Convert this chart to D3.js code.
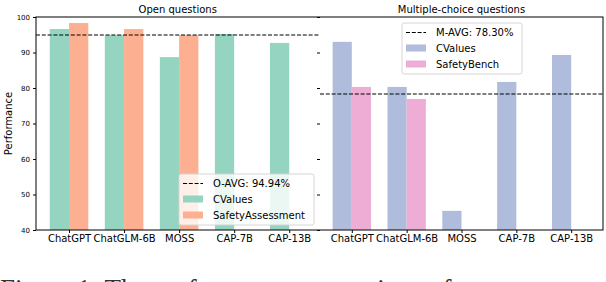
<!DOCTYPE html>
<html>
<head>
<meta charset="utf-8">
<script src="https://cdn.jsdelivr.net/npm/d3@7"></script>
<style>
  body { margin: 0; background: #fff; }
  svg { display: block; }
  text { font-family: "DejaVu Sans", sans-serif; }
</style>
</head>
<body>
<svg id="chart" width="606" height="282"></svg>
<script>
// data
const models = ['ChatGPT', 'ChatGLM-6B', 'MOSS', 'CAP-7B', 'CAP-13B']
const openCValues = [96.6, 94.9, 88.7, 95.2, 92.7]
const openSafety = [98.3, 96.6, 94.9, null, null]
const mcCValues = [93.0, 80.3, 45.4, 81.7, 89.3]
const mcSafetyBench = [80.3, 76.9, null, null, null]
const openAvg = 94.94
const mcAvg = 78.30
const yTicks = [40, 50, 60, 70, 80, 90, 100]

const svg = d3.select('#chart')
const plotTop = 17, plotBottom = 230, plotLeft = 36, plotMid = 319.5, plotRight = 603
const barW = 0.35

let y = d3.scaleLinear().domain([40, 100]).range([plotBottom, plotTop])
let xL = d3.scaleLinear().domain([-0.6, 4.55]).range([plotLeft, plotMid])
let xR = d3.scaleLinear().domain([-0.58, 4.58]).range([plotMid + 0.5, plotRight])

function drawPanel (x, seriesA, seriesB, colorA, colorB, avg, title) {
  let g = svg.append('g')
  let bars = [[seriesA, colorA, -barW], [seriesB, colorB, 0]]
  bars.forEach(([vals, color, off]) => {
    g.selectAll(null)
      .data(vals.map((v, i) => ({v, i})).filter(d => d.v != null))
      .enter().append('rect')
      .attr('x', d => x(d.i + off))
      .attr('width', x(barW) - x(0))
      .attr('y', d => y(d.v))
      .attr('height', d => y(40) - y(d.v))
      .attr('fill', color)
  })

  // avg line
  g.append('line')
    .attr('x1', x.range()[0]).attr('x2', x.range()[1])
    .attr('y1', y(avg)).attr('y2', y(avg))
    .attr('stroke', '#000').attr('stroke-width', 1.1)
    .attr('stroke-dasharray', '4,1.8')

  // x ticks
  let xAxis = d3.axisBottom(x).tickValues(d3.range(models.length))
    .tickFormat(i => models[i]).tickSize(3).tickPadding(2)
  let ax = g.append('g').attr('transform', `translate(0,${plotBottom})`).call(xAxis)
  ax.select('.domain').remove()
  ax.selectAll('text').style('font-size', '10px').attr('fill', '#000')

  g.append('text')
    .attr('x', (x.range()[0] + x.range()[1]) / 2)
    .attr('y', 12.5)
    .attr('text-anchor', 'middle')
    .style('font-size', '10px')
    .text(title)
}

drawPanel(xL, openCValues, openSafety, '#94d4c0', '#fdaf91', openAvg, 'Open questions')
drawPanel(xR, mcCValues, mcSafetyBench, '#afbcdb', '#eeadd5', mcAvg, 'Multiple-choice questions')

// left y axis
let yAxis = d3.axisLeft(y).tickValues(yTicks).tickSize(3).tickPadding(3)
let ay = svg.append('g').attr('transform', `translate(${plotLeft},0)`).call(yAxis)
ay.select('.domain').remove()
ay.selectAll('text').style('font-size', '7px')

// right panel y ticks, no labels
let ay2 = svg.append('g').attr('transform', `translate(${plotMid + 0.5},0)`)
  .call(d3.axisLeft(y).tickValues(yTicks).tickSize(3).tickFormat(''))
ay2.select('.domain').remove()

// frame
svg.append('rect')
  .attr('x', plotLeft).attr('y', plotTop)
  .attr('width', plotRight - plotLeft).attr('height', plotBottom - plotTop)
  .attr('fill', 'none').attr('stroke', '#000').attr('stroke-width', 1)

svg.append('text')
  .attr('transform', `translate(12,${(plotTop + plotBottom) / 2}) rotate(-90)`)
  .attr('text-anchor', 'middle')
  .style('font-size', '10px')
  .text('Performance')

function legend (x0, y0, w, avgLabel, items) {
  let g = svg.append('g').attr('transform', `translate(${x0},${y0})`)
  g.append('rect')
    .attr('width', w).attr('height', 51).attr('rx', 2)
    .attr('fill', 'rgba(255,255,255,0.8)')
    .attr('stroke', '#d6d6d6').attr('stroke-width', 1)
  g.append('line')
    .attr('x1', 4).attr('x2', 24).attr('y1', 9.5).attr('y2', 9.5)
    .attr('stroke', '#000').attr('stroke-width', 1.1)
    .attr('stroke-dasharray', '4,1.8')
  g.append('text').attr('x', 34).attr('y', 13).style('font-size', '10px').text(avgLabel)
  items.forEach(([label, color], i) => {
    let yy = 25 + i * 16
    g.append('rect').attr('x', 4).attr('y', yy - 3.5).attr('width', 20).attr('height', 7).attr('fill', color)
    g.append('text').attr('x', 34).attr('y', yy + 3.5).style('font-size', '10px').text(label)
  })
}

legend(179, 174, 135, 'O-AVG: 94.94%', [['CValues', '#94d4c0'], ['SafetyAssessment', '#fdaf91']])
legend(402, 23, 120, 'M-AVG: 78.30%', [['CValues', '#afbcdb'], ['SafetyBench', '#eeadd5']])

// cut-off caption below the figure (only its top edge shows)
svg.append('text')
  .attr('x', 0).attr('y', 298)
  .attr('fill', '#333')
  .style('font-family', '"Liberation Serif", serif')
  .style('font-size', '27px')
  .text('Figure 1: The performance comparison of')
</script>
</body>
</html>
